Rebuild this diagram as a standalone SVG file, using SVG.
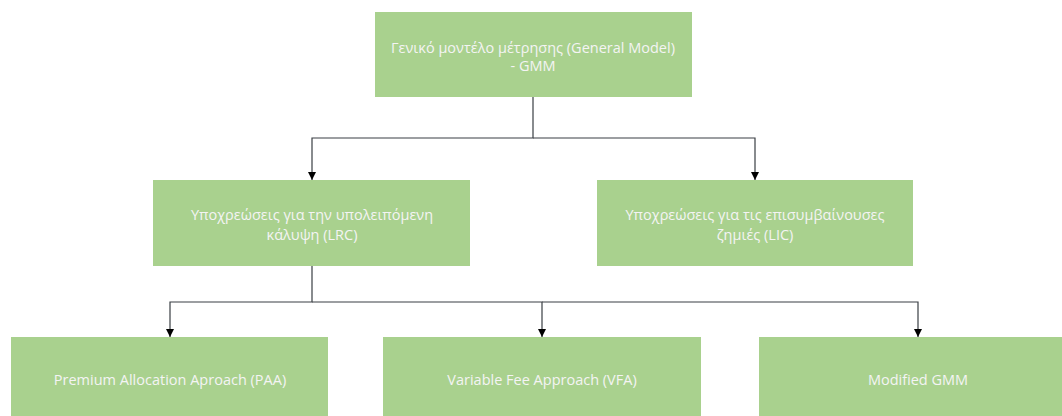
<svg xmlns="http://www.w3.org/2000/svg" width="1062" height="416" viewBox="0 0 1062 416">
<style>
.box{fill:#a9d18e;}
.t{font-family:"Open Sans","DejaVu Sans",sans-serif;font-size:14.5px;fill:#f4f4f4;text-anchor:middle;}
.c{fill:none;stroke:#3a3f44;stroke-width:1.2;}
</style>
<defs>
<marker id="ah" viewBox="0 0 10 10" refX="10" refY="5" markerWidth="8" markerHeight="8" markerUnits="userSpaceOnUse" orient="auto">
<path d="M0,0 L10,5 L0,10 z" fill="#000"/>
</marker>
</defs>
<rect width="1062" height="416" fill="#fff"/>
<g id="connectors">
<path class="c" d="M533,97 V138 H312 V180" marker-end="url(#ah)"/>
<path class="c" d="M533,138 H755 V180" marker-end="url(#ah)"/>
<path class="c" d="M312,266 V302 H170 V337" marker-end="url(#ah)"/>
<path class="c" d="M312,302 H542 V337" marker-end="url(#ah)"/>
<path class="c" d="M542,302 H918 V337" marker-end="url(#ah)"/>
</g>
<g id="gmm">
<rect class="box" x="375" y="12" width="317" height="85"/>
<text class="t" x="533" y="53">Γενικό μοντέλο μέτρησης (General Model)</text>
<text class="t" x="533" y="71">- GMM</text>
</g>
<g id="lrc">
<rect class="box" x="153" y="180" width="317" height="86"/>
<text class="t" x="312" y="220">Υποχρεώσεις για την υπολειπόμενη</text>
<text class="t" x="312" y="240">κάλυψη (LRC)</text>
</g>
<g id="lic">
<rect class="box" x="597" y="180" width="316" height="86"/>
<text class="t" x="755" y="220">Υποχρεώσεις για τις επισυμβαίνουσες</text>
<text class="t" x="755" y="240">ζημιές (LIC)</text>
</g>
<g id="paa">
<rect class="box" x="11" y="337" width="317" height="86"/>
<text class="t" x="170" y="385">Premium Allocation Aproach (PAA)</text>
</g>
<g id="vfa">
<rect class="box" x="383" y="337" width="318" height="86"/>
<text class="t" x="542" y="385">Variable Fee Approach (VFA)</text>
</g>
<g id="mgmm">
<rect class="box" x="759" y="337" width="317" height="86"/>
<text class="t" x="918" y="385">Modified GMM</text>
</g>
</svg>
